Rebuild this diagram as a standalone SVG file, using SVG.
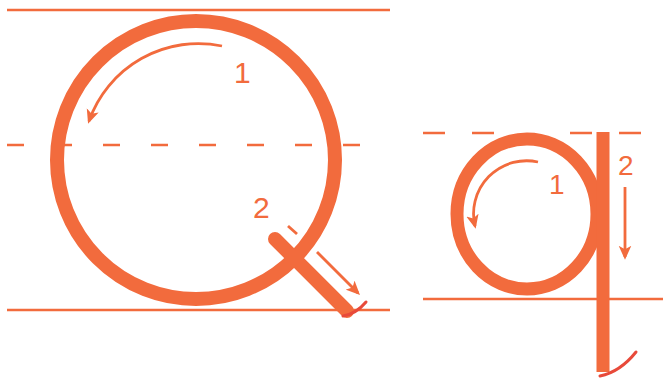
<svg xmlns="http://www.w3.org/2000/svg" width="663" height="381" viewBox="0 0 663 381">
<style>
.guide{stroke:#f26b3d;stroke-width:2.5;fill:none}
.dash{stroke:#f26b3d;stroke-width:2.5;fill:none;stroke-dasharray:17 31}
.letter{stroke:#f26b3d;fill:none;stroke-linecap:round}
.arrow{stroke:#f26b3d;stroke-width:2.8;fill:none}
.hook{stroke:#e84a3a;stroke-width:3;fill:none;stroke-linecap:round}
.num{font-family:"Liberation Sans",Arial,sans-serif;fill:#f26b3d;font-size:30px}
</style>
<defs>
<marker id="ah" viewBox="0 0 10 10" refX="8" refY="5" markerWidth="5" markerHeight="5" orient="auto" markerUnits="strokeWidth">
<path d="M0,0.5 L10,5 L0,9.5 L2.5,5 z" fill="#f26b3d"/>
</marker>
</defs>
<g id="guides">
<line class="guide" x1="7" y1="10" x2="390" y2="10"/>
<line class="guide" x1="7" y1="310" x2="390" y2="310"/>
<line class="dash" x1="7" y1="145" x2="366" y2="145"/>
<path class="guide" d="M423,133 H445 M472,133 H494 M570,133 H592 M619,133 H641"/>
<line class="guide" x1="423" y1="299" x2="663" y2="299"/>
</g>
<g id="letter-Q">
<circle class="letter" cx="196" cy="160" r="139" stroke-width="14"/>
<line class="letter" x1="275" y1="239" x2="347" y2="311" stroke-width="14"/>
<path class="hook" d="M343,316 Q356,314 366,302"/>
</g>
<g id="letter-q">
<ellipse class="letter" cx="527" cy="214" rx="70" ry="75" stroke-width="13"/>
<line class="letter" x1="603" y1="132" x2="603" y2="372" stroke-width="13" style="stroke-linecap:butt"/>
<path class="hook" d="M600,376 Q620,372 636,352"/>
</g>
<g id="connectors">
<path class="arrow" d="M222,46 A116,116 0 0 0 89,121" marker-end="url(#ah)"/>
<line class="arrow" x1="288" y1="226" x2="297" y2="234"/>
<line class="arrow" x1="317" y1="252" x2="358" y2="293" marker-end="url(#ah)"/>
<path class="arrow" d="M538,162 A53,53 0 0 0 475,226" marker-end="url(#ah)"/>
<line class="arrow" x1="625" y1="187" x2="625" y2="257" marker-end="url(#ah)"/>
</g>
<g id="labels">
<text class="num" x="234" y="83">1</text>
<text class="num" x="253" y="218">2</text>
<text class="num" x="549" y="194" style="font-size:28px">1</text>
<text class="num" x="618" y="175" style="font-size:28px">2</text>
</g>
</svg>
